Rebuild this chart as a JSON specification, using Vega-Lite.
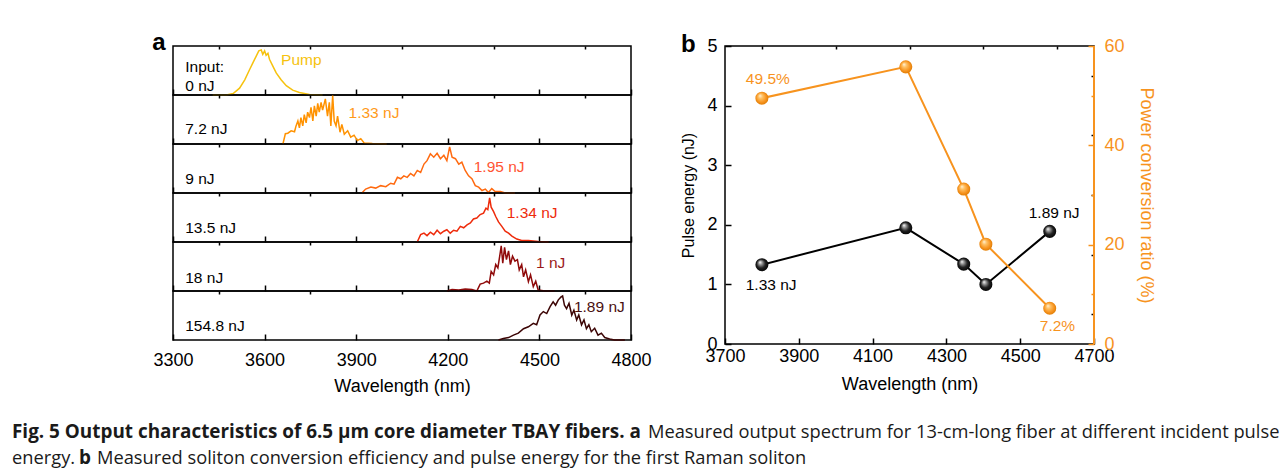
{
"$schema":"https://vega.github.io/schema/vega-lite/v6.json",
"padding":{"left":12,"top":30,"right":0,"bottom":0},
"background":"white",
"config":{"font":"Liberation Sans","view":{"stroke":"black","strokeWidth":1.5},
"axis":{"labelFont":"Liberation Sans","titleFont":"Liberation Sans","labelFontSize":18,"titleFontSize":18,"titleFontWeight":"normal","labelColor":"black","titleColor":"black","grid":false,"domain":false,"tickColor":"black","tickWidth":1.5,"labelFlush":false,"labelOverlap":false,"zindex":1},
"text":{"font":"Liberation Sans"}},
"datasets":{
"spec":[
{"r":1,"w":3430,"i":0},{"r":1,"w":3475,"i":0},{"r":1,"w":3497,"i":0.03},{"r":1,"w":3518,"i":0.14},{"r":1,"w":3535,"i":0.31},{"r":1,"w":3551,"i":0.52},{"r":1,"w":3562,"i":0.66},{"r":1,"w":3573,"i":0.8},{"r":1,"w":3581,"i":0.9},{"r":1,"w":3589,"i":0.92},{"r":1,"w":3594,"i":0.83},{"r":1,"w":3600,"i":0.9},{"r":1,"w":3605,"i":0.81},{"r":1,"w":3611,"i":0.85},{"r":1,"w":3616,"i":0.73},{"r":1,"w":3627,"i":0.59},{"r":1,"w":3638,"i":0.45},{"r":1,"w":3654,"i":0.31},{"r":1,"w":3671,"i":0.19},{"r":1,"w":3692,"i":0.1},{"r":1,"w":3714,"i":0.05},{"r":1,"w":3747,"i":0.01},{"r":1,"w":3790,"i":0},
{"r":2,"w":3660,"i":0},{"r":2,"w":3668,"i":0.21},{"r":2,"w":3676,"i":0.22},{"r":2,"w":3687,"i":0.27},{"r":2,"w":3698,"i":0.25},{"r":2,"w":3703,"i":0.37},{"r":2,"w":3709,"i":0.47},{"r":2,"w":3714,"i":0.33},{"r":2,"w":3719,"i":0.54},{"r":2,"w":3725,"i":0.37},{"r":2,"w":3730,"i":0.6},{"r":2,"w":3736,"i":0.43},{"r":2,"w":3741,"i":0.65},{"r":2,"w":3747,"i":0.54},{"r":2,"w":3752,"i":0.75},{"r":2,"w":3758,"i":0.47},{"r":2,"w":3763,"i":0.78},{"r":2,"w":3769,"i":0.57},{"r":2,"w":3774,"i":0.83},{"r":2,"w":3779,"i":0.65},{"r":2,"w":3785,"i":0.85},{"r":2,"w":3790,"i":0.69},{"r":2,"w":3799,"i":0.92},{"r":2,"w":3806,"i":0.57},{"r":2,"w":3812,"i":0.85},{"r":2,"w":3817,"i":0.37},{"r":2,"w":3823,"i":0.99},{"r":2,"w":3828,"i":0.47},{"r":2,"w":3834,"i":0.37},{"r":2,"w":3839,"i":0.57},{"r":2,"w":3847,"i":0.24},{"r":2,"w":3853,"i":0.4},{"r":2,"w":3861,"i":0.2},{"r":2,"w":3872,"i":0.27},{"r":2,"w":3882,"i":0.14},{"r":2,"w":3893,"i":0.18},{"r":2,"w":3904,"i":0.07},{"r":2,"w":3915,"i":0.11},{"r":2,"w":3926,"i":0.02},{"r":2,"w":3953,"i":0.01},{"r":2,"w":4000,"i":0},
{"r":3,"w":3920,"i":0.01},{"r":3,"w":3931,"i":0.08},{"r":3,"w":3948,"i":0.12},{"r":3,"w":3964,"i":0.1},{"r":3,"w":3980,"i":0.15},{"r":3,"w":3997,"i":0.13},{"r":3,"w":4013,"i":0.2},{"r":3,"w":4024,"i":0.18},{"r":3,"w":4035,"i":0.32},{"r":3,"w":4046,"i":0.29},{"r":3,"w":4056,"i":0.35},{"r":3,"w":4067,"i":0.32},{"r":3,"w":4078,"i":0.4},{"r":3,"w":4089,"i":0.35},{"r":3,"w":4100,"i":0.46},{"r":3,"w":4111,"i":0.42},{"r":3,"w":4122,"i":0.59},{"r":3,"w":4132,"i":0.66},{"r":3,"w":4143,"i":0.8},{"r":3,"w":4154,"i":0.73},{"r":3,"w":4165,"i":0.81},{"r":3,"w":4176,"i":0.7},{"r":3,"w":4187,"i":0.77},{"r":3,"w":4197,"i":0.66},{"r":3,"w":4206,"i":0.94},{"r":3,"w":4214,"i":0.73},{"r":3,"w":4225,"i":0.7},{"r":3,"w":4236,"i":0.59},{"r":3,"w":4246,"i":0.63},{"r":3,"w":4257,"i":0.46},{"r":3,"w":4268,"i":0.35},{"r":3,"w":4279,"i":0.29},{"r":3,"w":4290,"i":0.15},{"r":3,"w":4301,"i":0.12},{"r":3,"w":4312,"i":0.05},{"r":3,"w":4323,"i":0.08},{"r":3,"w":4333,"i":0.01},{"r":3,"w":4344,"i":0.09},{"r":3,"w":4355,"i":0.03},{"r":3,"w":4372,"i":0.03},{"r":3,"w":4388,"i":0},{"r":3,"w":4420,"i":0},
{"r":4,"w":4100,"i":0},{"r":4,"w":4111,"i":0.15},{"r":4,"w":4122,"i":0.18},{"r":4,"w":4132,"i":0.13},{"r":4,"w":4143,"i":0.2},{"r":4,"w":4154,"i":0.15},{"r":4,"w":4165,"i":0.24},{"r":4,"w":4176,"i":0.17},{"r":4,"w":4187,"i":0.22},{"r":4,"w":4197,"i":0.25},{"r":4,"w":4208,"i":0.18},{"r":4,"w":4219,"i":0.24},{"r":4,"w":4230,"i":0.22},{"r":4,"w":4241,"i":0.32},{"r":4,"w":4252,"i":0.29},{"r":4,"w":4263,"i":0.35},{"r":4,"w":4274,"i":0.39},{"r":4,"w":4284,"i":0.47},{"r":4,"w":4295,"i":0.49},{"r":4,"w":4306,"i":0.56},{"r":4,"w":4317,"i":0.59},{"r":4,"w":4325,"i":0.69},{"r":4,"w":4331,"i":0.66},{"r":4,"w":4337,"i":0.9},{"r":4,"w":4342,"i":0.71},{"r":4,"w":4350,"i":0.62},{"r":4,"w":4357,"i":0.52},{"r":4,"w":4366,"i":0.41},{"r":4,"w":4377,"i":0.32},{"r":4,"w":4388,"i":0.22},{"r":4,"w":4399,"i":0.18},{"r":4,"w":4410,"i":0.12},{"r":4,"w":4426,"i":0.06},{"r":4,"w":4442,"i":0.03},{"r":4,"w":4464,"i":0.03},{"r":4,"w":4496,"i":0.01},{"r":4,"w":4530,"i":0},
{"r":5,"w":4197,"i":0},{"r":5,"w":4214,"i":0.03},{"r":5,"w":4236,"i":0.02},{"r":5,"w":4257,"i":0.04},{"r":5,"w":4279,"i":0.03},{"r":5,"w":4295,"i":0},{"r":5,"w":4306,"i":0.14},{"r":5,"w":4317,"i":0.16},{"r":5,"w":4328,"i":0.2},{"r":5,"w":4336,"i":0.16},{"r":5,"w":4342,"i":0.4},{"r":5,"w":4350,"i":0.33},{"r":5,"w":4357,"i":0.54},{"r":5,"w":4364,"i":0.47},{"r":5,"w":4370,"i":0.71},{"r":5,"w":4375,"i":0.92},{"r":5,"w":4380,"i":0.57},{"r":5,"w":4386,"i":0.89},{"r":5,"w":4392,"i":0.64},{"r":5,"w":4399,"i":0.82},{"r":5,"w":4405,"i":0.54},{"r":5,"w":4412,"i":0.71},{"r":5,"w":4420,"i":0.61},{"r":5,"w":4428,"i":0.64},{"r":5,"w":4434,"i":0.43},{"r":5,"w":4442,"i":0.54},{"r":5,"w":4448,"i":0.29},{"r":5,"w":4455,"i":0.43},{"r":5,"w":4464,"i":0.19},{"r":5,"w":4471,"i":0.33},{"r":5,"w":4480,"i":0.09},{"r":5,"w":4488,"i":0.2},{"r":5,"w":4496,"i":0.02},{"r":5,"w":4518,"i":0},{"r":5,"w":4550,"i":0},
{"r":6,"w":4366,"i":0},{"r":6,"w":4382,"i":0.03},{"r":6,"w":4399,"i":0.05},{"r":6,"w":4415,"i":0.1},{"r":6,"w":4431,"i":0.14},{"r":6,"w":4448,"i":0.23},{"r":6,"w":4464,"i":0.27},{"r":6,"w":4480,"i":0.34},{"r":6,"w":4491,"i":0.31},{"r":6,"w":4502,"i":0.51},{"r":6,"w":4513,"i":0.58},{"r":6,"w":4524,"i":0.54},{"r":6,"w":4535,"i":0.68},{"r":6,"w":4545,"i":0.78},{"r":6,"w":4553,"i":0.71},{"r":6,"w":4562,"i":0.82},{"r":6,"w":4571,"i":0.88},{"r":6,"w":4576,"i":0.9},{"r":6,"w":4582,"i":0.71},{"r":6,"w":4589,"i":0.64},{"r":6,"w":4597,"i":0.75},{"r":6,"w":4606,"i":0.51},{"r":6,"w":4613,"i":0.61},{"r":6,"w":4622,"i":0.41},{"r":6,"w":4629,"i":0.51},{"r":6,"w":4638,"i":0.31},{"r":6,"w":4646,"i":0.41},{"r":6,"w":4654,"i":0.23},{"r":6,"w":4662,"i":0.31},{"r":6,"w":4670,"i":0.17},{"r":6,"w":4681,"i":0.24},{"r":6,"w":4692,"i":0.1},{"r":6,"w":4703,"i":0.14},{"r":6,"w":4714,"i":0.05},{"r":6,"w":4730,"i":0.02},{"r":6,"w":4746,"i":0},{"r":6,"w":4780,"i":0}
],
"ann":[
{"r":1,"s":"L","t":"Input:","w":3340,"i":0.46},{"r":1,"s":"L","t":"0 nJ","w":3340,"i":0.09},{"r":1,"s":"R","t":"Pump","w":3654,"i":0.62},
{"r":2,"s":"L","t":"7.2 nJ","w":3340,"i":0.21},{"r":2,"s":"R","t":"1.33 nJ","w":3875,"i":0.54},
{"r":3,"s":"L","t":"9 nJ","w":3340,"i":0.19},{"r":3,"s":"R","t":"1.95 nJ","w":4285,"i":0.43},
{"r":4,"s":"L","t":"13.5 nJ","w":3340,"i":0.19},{"r":4,"s":"R","t":"1.34 nJ","w":4393,"i":0.5},
{"r":5,"s":"L","t":"18 nJ","w":3340,"i":0.17},{"r":5,"s":"R","t":"1 nJ","w":4489,"i":0.46},
{"r":6,"s":"L","t":"154.8 nJ","w":3340,"i":0.18},{"r":6,"s":"R","t":"1.89 nJ","w":4613,"i":0.58}
],
"b":[{"w":3800,"e":1.33,"p":49.5},{"w":4190,"e":1.95,"p":55.8},{"w":4347,"e":1.34,"p":31.2},{"w":4407,"e":1.0,"p":20.1},{"w":4580,"e":1.89,"p":7.2}],
"bt":[{"k":"E","t":"1.33 nJ","w":3825,"e":0.91},{"k":"E","t":"1.89 nJ","w":4592,"e":2.11},{"k":"P","t":"49.5%","w":3816,"p":52.4},{"k":"P","t":"7.2%","w":4601,"p":2.7}],
"cap":[{"k":1,"t":"Fig. 5 Output characteristics of 6.5 µm core diameter TBAY fibers. a"},{"k":2,"t":"Measured output spectrum for 13-cm-long fiber at different incident pulse"},{"k":3,"t":"energy."},{"k":4,"t":"b"},{"k":5,"t":"Measured soliton conversion efficiency and pulse energy for the first Raman soliton"}]
},
"vconcat":[
{"hconcat":[
{"width":112,"height":10,"view":{"stroke":null},"data":{"values":[]},"mark":"point"},
{"title":{"text":"a","anchor":"start","frame":"bounds","fontSize":24,"fontWeight":"bold","font":"Liberation Sans","baseline":"alphabetic","offset":-29,"color":"black"},
"bounds":"flush","spacing":0,
"vconcat":[
{"width":458,"height":49,"resolve":{"axis":{"x":"independent"}},
"encoding":{"y":{"field":"i","type":"quantitative","scale":{"domain":[0,1],"nice":false},"axis":null}},
"layer":[
{"data":{"values":[{}]},"mark":{"type":"rule","color":"#f6c20e","strokeWidth":2.5,"strokeDash":[7,5]},"encoding":{"x":{"datum":3300,"type":"quantitative","axis":null},"x2":{"datum":4800},"y":{"datum":0,"type":"quantitative","axis":null}}},
{"data":{"name":"spec"},"transform":[{"filter":"datum.r==1"}],"mark":{"type":"line","color":"#f6c20e","strokeWidth":1.5},"encoding":{"x":{"field":"w","type":"quantitative","scale":{"domain":[3300,4800],"nice":false,"zero":false},"axis":{"values":[3300,3600,3900,4200,4500,4800],"labels":false,"title":null,"offset":-6,"tickSize":6}}}},
{"data":{"name":"ann"},"transform":[{"filter":"datum.r==1 && datum.s=='L'"}],"mark":{"type":"text","align":"left","baseline":"alphabetic","fontSize":15.5,"color":"black"},"encoding":{"x":{"field":"w","type":"quantitative","axis":{"values":[3450,3750,4050,4350,4650],"labels":false,"title":null,"offset":-3,"tickSize":3}},"text":{"field":"t"}}},
{"data":{"name":"ann"},"transform":[{"filter":"datum.r==1 && datum.s=='R'"}],"mark":{"type":"text","align":"left","baseline":"alphabetic","fontSize":15.5,"color":"#f6c20e"},"encoding":{"x":{"field":"w","type":"quantitative","axis":null},"text":{"field":"t"}}}
]},
{"width":458,"height":49,"resolve":{"axis":{"x":"independent"}},
"encoding":{"y":{"field":"i","type":"quantitative","scale":{"domain":[0,1],"nice":false},"axis":null}},
"layer":[
{"data":{"values":[{}]},"mark":{"type":"rule","color":"#ff9200","strokeWidth":2.5,"strokeDash":[7,5]},"encoding":{"x":{"datum":3300,"type":"quantitative","axis":null},"x2":{"datum":4800},"y":{"datum":0,"type":"quantitative","axis":null}}},
{"data":{"name":"spec"},"transform":[{"filter":"datum.r==2"}],"mark":{"type":"line","color":"#ff9200","strokeWidth":1.5},"encoding":{"x":{"field":"w","type":"quantitative","scale":{"domain":[3300,4800],"nice":false,"zero":false},"axis":{"values":[3300,3600,3900,4200,4500,4800],"labels":false,"title":null,"offset":-6,"tickSize":6}}}},
{"data":{"name":"ann"},"transform":[{"filter":"datum.r==2 && datum.s=='L'"}],"mark":{"type":"text","align":"left","baseline":"alphabetic","fontSize":15.5,"color":"black"},"encoding":{"x":{"field":"w","type":"quantitative","axis":{"values":[3450,3750,4050,4350,4650],"labels":false,"title":null,"offset":-3,"tickSize":3}},"text":{"field":"t"}}},
{"data":{"name":"ann"},"transform":[{"filter":"datum.r==2 && datum.s=='R'"}],"mark":{"type":"text","align":"left","baseline":"alphabetic","fontSize":15.5,"color":"#ff9a1a"},"encoding":{"x":{"field":"w","type":"quantitative","axis":null},"text":{"field":"t"}}}
]},
{"width":458,"height":49,"resolve":{"axis":{"x":"independent"}},
"encoding":{"y":{"field":"i","type":"quantitative","scale":{"domain":[0,1],"nice":false},"axis":{"title":"Intensity (a.u.)","labels":false,"ticks":false,"domain":false,"titleY":49,"titlePadding":11}}},
"layer":[
{"data":{"values":[{}]},"mark":{"type":"rule","color":"#3f5a2e","strokeWidth":2.5},"encoding":{"x":{"datum":3300,"type":"quantitative","axis":null},"x2":{"datum":4800},"y":{"datum":0,"type":"quantitative","axis":null}}},
{"data":{"values":[{}]},"mark":{"type":"rule","color":"#ff6a10","strokeWidth":2.5,"strokeDash":[7,5]},"encoding":{"x":{"datum":3300,"type":"quantitative","axis":null},"x2":{"datum":4800},"y":{"datum":0,"type":"quantitative","axis":null}}},
{"data":{"name":"spec"},"transform":[{"filter":"datum.r==3"}],"mark":{"type":"line","color":"#ff6a10","strokeWidth":1.5},"encoding":{"x":{"field":"w","type":"quantitative","scale":{"domain":[3300,4800],"nice":false,"zero":false},"axis":{"values":[3300,3600,3900,4200,4500,4800],"labels":false,"title":null,"offset":-6,"tickSize":6}}}},
{"data":{"name":"ann"},"transform":[{"filter":"datum.r==3 && datum.s=='L'"}],"mark":{"type":"text","align":"left","baseline":"alphabetic","fontSize":15.5,"color":"black"},"encoding":{"x":{"field":"w","type":"quantitative","axis":{"values":[3450,3750,4050,4350,4650],"labels":false,"title":null,"offset":-3,"tickSize":3}},"text":{"field":"t"}}},
{"data":{"name":"ann"},"transform":[{"filter":"datum.r==3 && datum.s=='R'"}],"mark":{"type":"text","align":"left","baseline":"alphabetic","fontSize":15.5,"color":"#ff5533"},"encoding":{"x":{"field":"w","type":"quantitative","axis":null},"text":{"field":"t"}}}
]},
{"width":458,"height":49,"resolve":{"axis":{"x":"independent"}},
"encoding":{"y":{"field":"i","type":"quantitative","scale":{"domain":[0,1],"nice":false},"axis":null}},
"layer":[
{"data":{"values":[{}]},"mark":{"type":"rule","color":"#ee2b0b","strokeWidth":2.5,"strokeDash":[7,5]},"encoding":{"x":{"datum":3300,"type":"quantitative","axis":null},"x2":{"datum":4800},"y":{"datum":0,"type":"quantitative","axis":null}}},
{"data":{"name":"spec"},"transform":[{"filter":"datum.r==4"}],"mark":{"type":"line","color":"#ee2b0b","strokeWidth":1.5},"encoding":{"x":{"field":"w","type":"quantitative","scale":{"domain":[3300,4800],"nice":false,"zero":false},"axis":{"values":[3300,3600,3900,4200,4500,4800],"labels":false,"title":null,"offset":-6,"tickSize":6}}}},
{"data":{"name":"ann"},"transform":[{"filter":"datum.r==4 && datum.s=='L'"}],"mark":{"type":"text","align":"left","baseline":"alphabetic","fontSize":15.5,"color":"black"},"encoding":{"x":{"field":"w","type":"quantitative","axis":{"values":[3450,3750,4050,4350,4650],"labels":false,"title":null,"offset":-3,"tickSize":3}},"text":{"field":"t"}}},
{"data":{"name":"ann"},"transform":[{"filter":"datum.r==4 && datum.s=='R'"}],"mark":{"type":"text","align":"left","baseline":"alphabetic","fontSize":15.5,"color":"#ee2b0b"},"encoding":{"x":{"field":"w","type":"quantitative","axis":null},"text":{"field":"t"}}}
]},
{"width":458,"height":49,"resolve":{"axis":{"x":"independent"}},
"encoding":{"y":{"field":"i","type":"quantitative","scale":{"domain":[0,1],"nice":false},"axis":null}},
"layer":[
{"data":{"values":[{}]},"mark":{"type":"rule","color":"#8f0a0a","strokeWidth":2.5,"strokeDash":[7,5]},"encoding":{"x":{"datum":3300,"type":"quantitative","axis":null},"x2":{"datum":4800},"y":{"datum":0,"type":"quantitative","axis":null}}},
{"data":{"name":"spec"},"transform":[{"filter":"datum.r==5"}],"mark":{"type":"line","color":"#8f0a0a","strokeWidth":1.5},"encoding":{"x":{"field":"w","type":"quantitative","scale":{"domain":[3300,4800],"nice":false,"zero":false},"axis":{"values":[3300,3600,3900,4200,4500,4800],"labels":false,"title":null,"offset":-6,"tickSize":6}}}},
{"data":{"name":"ann"},"transform":[{"filter":"datum.r==5 && datum.s=='L'"}],"mark":{"type":"text","align":"left","baseline":"alphabetic","fontSize":15.5,"color":"black"},"encoding":{"x":{"field":"w","type":"quantitative","axis":{"values":[3450,3750,4050,4350,4650],"labels":false,"title":null,"offset":-3,"tickSize":3}},"text":{"field":"t"}}},
{"data":{"name":"ann"},"transform":[{"filter":"datum.r==5 && datum.s=='R'"}],"mark":{"type":"text","align":"left","baseline":"alphabetic","fontSize":15.5,"color":"#9a1a1a"},"encoding":{"x":{"field":"w","type":"quantitative","axis":null},"text":{"field":"t"}}}
]},
{"width":458,"height":49,"resolve":{"axis":{"x":"independent"}},
"encoding":{"y":{"field":"i","type":"quantitative","scale":{"domain":[0,1],"nice":false},"axis":null}},
"layer":[
{"data":{"values":[{}]},"mark":{"type":"rule","color":"#3c0505","strokeWidth":2.5,"strokeDash":[7,5]},"encoding":{"x":{"datum":3300,"type":"quantitative","axis":null},"x2":{"datum":4800},"y":{"datum":0,"type":"quantitative","axis":null}}},
{"data":{"name":"spec"},"transform":[{"filter":"datum.r==6"}],"mark":{"type":"line","color":"#3c0505","strokeWidth":1.5},"encoding":{"x":{"field":"w","type":"quantitative","scale":{"domain":[3300,4800],"nice":false,"zero":false},"axis":{"values":[3300,3600,3900,4200,4500,4800],"format":"d","labelPadding":11,"title":"Wavelength (nm)","titlePadding":8,"offset":-6,"tickSize":6}}}},
{"data":{"name":"ann"},"transform":[{"filter":"datum.r==6 && datum.s=='L'"}],"mark":{"type":"text","align":"left","baseline":"alphabetic","fontSize":15.5,"color":"black"},"encoding":{"x":{"field":"w","type":"quantitative","axis":{"values":[3450,3750,4050,4350,4650],"labels":false,"title":null,"offset":-3,"tickSize":3}},"text":{"field":"t"}}},
{"data":{"name":"ann"},"transform":[{"filter":"datum.r==6 && datum.s=='R'"}],"mark":{"type":"text","align":"left","baseline":"alphabetic","fontSize":15.5,"color":"#4a1010"},"encoding":{"x":{"field":"w","type":"quantitative","axis":null},"text":{"field":"t"}}}
]}
]},
{"width":369,"height":298,
"title":{"text":"b","anchor":"start","frame":"bounds","fontSize":24,"fontWeight":"bold","font":"Liberation Sans","baseline":"alphabetic","offset":-39,"color":"black"},
"layer":[
{"layer":[
{"data":{"name":"b"},"mark":{"type":"line","color":"black","strokeWidth":2},"encoding":{"x":{"field":"w","type":"quantitative","scale":{"domain":[3700,4700],"nice":false,"zero":false},"axis":{"values":[3700,3900,4100,4300,4500,4700],"format":"d","labelPadding":3,"title":"Wavelength (nm)","titlePadding":10,"offset":-6,"tickSize":6}},"y":{"field":"e","type":"quantitative","scale":{"domain":[0,5],"nice":false},"axis":{"values":[0,1,2,3,4,5],"format":"d","labelPadding":8,"title":"Pulse energy (nJ)","titleFontSize":16,"titlePadding":10,"offset":-6,"tickSize":6}}}},
{"data":{"name":"b"},"mark":{"type":"point","filled":true,"size":170,"opacity":1,"fill":{"gradient":"radial","x1":0.35,"y1":0.3,"r1":0,"x2":0.5,"y2":0.5,"r2":0.55,"stops":[{"offset":0,"color":"#ffffff"},{"offset":0.25,"color":"#9a9a9a"},{"offset":0.6,"color":"#222222"},{"offset":1,"color":"#000000"}]}},"encoding":{"x":{"field":"w","type":"quantitative","axis":{"values":[3800,4000,4200,4400,4600],"labels":false,"title":null,"offset":-3,"tickSize":3}},"y":{"field":"e","type":"quantitative","axis":{"values":[0.5,1.5,2.5,3.5,4.5],"labels":false,"title":null,"offset":-3,"tickSize":3}}}},
{"data":{"name":"bt"},"transform":[{"filter":"datum.k=='E'"}],"mark":{"type":"text","align":"center","baseline":"alphabetic","fontSize":15.5,"color":"black"},"encoding":{"x":{"field":"w","type":"quantitative","axis":null},"y":{"field":"e","type":"quantitative","axis":null},"text":{"field":"t"}}}
],"resolve":{"axis":{"x":"independent","y":"independent"}}},
{"layer":[
{"data":{"values":[{}]},"mark":{"type":"rule","color":"#f7931e","strokeWidth":2},"encoding":{"x":{"datum":4700,"type":"quantitative","axis":null}}},
{"data":{"name":"b"},"mark":{"type":"line","color":"#f7931e","strokeWidth":2},"encoding":{"x":{"field":"w","type":"quantitative","axis":null},"y":{"field":"p","type":"quantitative","scale":{"domain":[0,60],"nice":false},"axis":{"orient":"right","values":[0,20,40,60],"labelPadding":10,"labelColor":"#f7931e","tickColor":"#f7931e","title":"Power conversion ratio (%)","titleColor":"#f7931e","titlePadding":12,"offset":-6,"tickSize":6}}}},
{"data":{"name":"b"},"mark":{"type":"point","filled":true,"size":170,"opacity":1,"fill":{"gradient":"radial","x1":0.35,"y1":0.3,"r1":0,"x2":0.5,"y2":0.5,"r2":0.55,"stops":[{"offset":0,"color":"#fff3dc"},{"offset":0.3,"color":"#ffc266"},{"offset":0.7,"color":"#f7931e"},{"offset":1,"color":"#d97800"}]}},"encoding":{"x":{"field":"w","type":"quantitative","axis":null},"y":{"field":"p","type":"quantitative","axis":{"orient":"right","values":[10,30,50],"labels":false,"title":null,"tickColor":"#f7931e","offset":-3,"tickSize":3}}}},
{"data":{"name":"bt"},"transform":[{"filter":"datum.k=='P'"}],"mark":{"type":"text","align":"center","baseline":"alphabetic","fontSize":15.5,"color":"#f7931e"},"encoding":{"x":{"field":"w","type":"quantitative","axis":null},"y":{"field":"p","type":"quantitative","axis":null},"text":{"field":"t"}}}
],"resolve":{"axis":{"x":"independent","y":"independent"}}}
],
"resolve":{"scale":{"y":"independent"},"axis":{"x":"independent","y":"independent"}}}
],"spacing":28},
{"width":1268,"height":46,"view":{"stroke":null},
"data":{"name":"cap"},
"layer":[
{"transform":[{"filter":"datum.k==1"}],"mark":{"type":"text","align":"left","baseline":"alphabetic","font":"Open Sans","fontSize":18.9,"fontWeight":"bold","color":"#1a1a1a"},"encoding":{"x":{"datum":0,"type":"quantitative","scale":{"domain":[0,1268],"nice":false,"zero":false},"axis":null},"y":{"datum":16,"type":"quantitative","scale":{"domain":[0,46],"nice":false,"reverse":true},"axis":null},"text":{"field":"t"}}},
{"transform":[{"filter":"datum.k==2"}],"mark":{"type":"text","align":"left","baseline":"alphabetic","font":"Open Sans","fontSize":18.3,"color":"#1a1a1a"},"encoding":{"x":{"datum":636,"type":"quantitative"},"y":{"datum":16,"type":"quantitative"},"text":{"field":"t"}}},
{"transform":[{"filter":"datum.k==3"}],"mark":{"type":"text","align":"left","baseline":"alphabetic","font":"Open Sans","fontSize":18.3,"color":"#1a1a1a"},"encoding":{"x":{"datum":0,"type":"quantitative"},"y":{"datum":42,"type":"quantitative"},"text":{"field":"t"}}},
{"transform":[{"filter":"datum.k==4"}],"mark":{"type":"text","align":"left","baseline":"alphabetic","font":"Open Sans","fontSize":18.9,"fontWeight":"bold","color":"#1a1a1a"},"encoding":{"x":{"datum":67,"type":"quantitative"},"y":{"datum":42,"type":"quantitative"},"text":{"field":"t"}}},
{"transform":[{"filter":"datum.k==5"}],"mark":{"type":"text","align":"left","baseline":"alphabetic","font":"Open Sans","fontSize":18.3,"color":"#1a1a1a"},"encoding":{"x":{"datum":85,"type":"quantitative"},"y":{"datum":42,"type":"quantitative"},"text":{"field":"t"}}}
]}
],
"spacing":26
}
